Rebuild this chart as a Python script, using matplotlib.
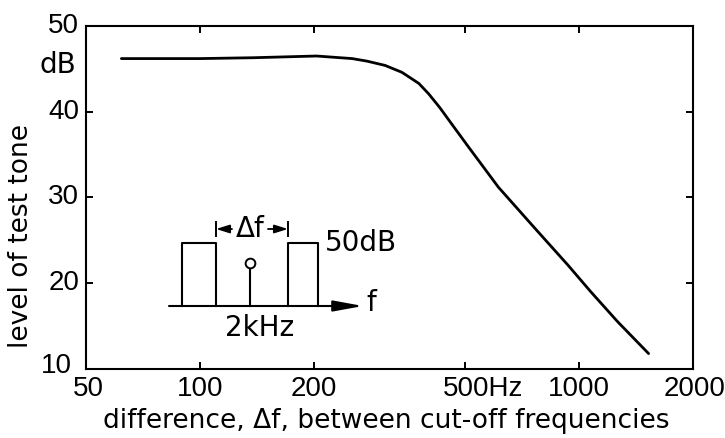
import matplotlib
matplotlib.use('Agg')
import matplotlib.pyplot as plt

# curve
freq_hz = [62, 100, 138, 203, 252, 276, 308, 341, 378, 401, 429, 461, 511, 613,
           762, 936, 1075, 1266, 1527]
level_db = [46.2, 46.2, 46.3, 46.5, 46.2, 45.9, 45.4, 44.6, 43.3, 42.1, 40.5, 38.6,
            35.9, 31.2, 26.5, 22.1, 19.0, 15.5, 11.8]

xtick_values = [50, 100, 200, 500, 1000, 2000]
xtick_labels = ['50', '100', '200', '500Hz', '1000', '2000']
ytick_values = [10, 20, 30, 40, 50]
ytick_labels = ['10', '20', '30', '40', '50']

plt.rcParams['font.family'] = ['DejaVu Sans']
NARROW = ['Liberation Sans Narrow', 'Liberation Sans', 'DejaVu Sans']
FS_TICK = 20
FS_LABEL = 19

fig = plt.figure(figsize=(7.25, 4.38), dpi=100)
ax = fig.add_axes([86 / 725, 1 - 369 / 438, 607 / 725, 343 / 438])

ax.plot(freq_hz, level_db, color='black', lw=2.0,
        solid_capstyle='round', solid_joinstyle='round')

ax.set_xscale('log')
ax.set_xlim(50, 2000)
ax.set_ylim(10, 50)

for s in ax.spines.values():
    s.set_linewidth(1.5)

ax.set_xticks(xtick_values)
ax.set_xticklabels([''] * len(xtick_values))
ax.xaxis.set_minor_locator(matplotlib.ticker.NullLocator())
ax.set_yticks(ytick_values)
ax.set_yticklabels([''] * len(ytick_values))
ax.tick_params(direction='in', length=5, width=1.4, top=True, right=True)

# x tick labels drawn by hand so "500Hz" can hang to the right
for v, lab in zip(xtick_values, xtick_labels):
    dx = 0
    if lab == '500Hz':
        dx = 13
    elif lab == '50':
        dx = 2
    elif lab == '2000':
        dx = 1
    ax.annotate(lab, xy=(v, 0), xycoords=('data', 'axes fraction'),
                xytext=(dx, -5), textcoords='offset points',
                ha='center', va='top', fontsize=FS_TICK, family=NARROW)

for v, lab in zip(ytick_values, ytick_labels):
    dy = 0
    dx = -5
    if lab == '10':
        dy = 2
        dx = -10
    ax.annotate(lab, xy=(0, v), xycoords=('axes fraction', 'data'),
                xytext=(dx, dy), textcoords='offset points',
                ha='right', va='center', fontsize=FS_TICK, family=NARROW)

ax.annotate('dB', xy=(0, 45.4), xycoords=('axes fraction', 'data'),
            xytext=(-7, 0), textcoords='offset points',
            ha='right', va='center', fontsize=FS_TICK)

fig.text(21 / 725, 1 - 236 / 438, 'level of test tone', rotation=90,
         ha='center', va='center', fontsize=FS_LABEL)
fig.text(386 / 725, 1 - 421 / 438, 'difference, \u0394f, between cut-off frequencies',
         ha='center', va='center', fontsize=FS_LABEL)

# small schematic of the masker bands and the test tone
ins = fig.add_axes([165 / 725, 1 - 345 / 438, 210 / 725, 130 / 438])
ins.set_xlim(0, 210)
ins.set_ylim(0, 130)
ins.axis('off')

base_y = 39
band_top = 102
left_band = (17, 51)
right_band = (123, 153)
tone_x = 85
tone_y = 82

ins.annotate('', xy=(198, base_y), xytext=(4, base_y),
             arrowprops=dict(arrowstyle='-|>,head_length=1.2,head_width=0.22',
                             lw=1.5, color='black', mutation_scale=15,
                             shrinkA=0, shrinkB=0))
for x0, x1 in (left_band, right_band):
    ins.plot([x0, x0, x1, x1], [base_y, band_top, band_top, base_y],
             color='black', lw=1.5)
ins.plot([tone_x, tone_x], [base_y, tone_y], color='black', lw=1.5)
ins.plot([tone_x], [tone_y], marker='o', ms=7, mfc='white', mec='black', mew=1.4)

dim_y = 116
ins.plot([left_band[1], left_band[1]], [dim_y - 7, dim_y + 7], color='black', lw=1.4)
ins.plot([right_band[0], right_band[0]], [dim_y - 7, dim_y + 7], color='black', lw=1.4)
ins.annotate('', xy=(left_band[1], dim_y), xytext=(67, dim_y),
             arrowprops=dict(arrowstyle='-|>,head_length=0.8,head_width=0.25',
                             lw=1.3, color='black', mutation_scale=10,
                             shrinkA=0, shrinkB=0))
ins.annotate('', xy=(right_band[0], dim_y), xytext=(103, dim_y),
             arrowprops=dict(arrowstyle='-|>,head_length=0.8,head_width=0.25',
                             lw=1.3, color='black', mutation_scale=10,
                             shrinkA=0, shrinkB=0))
ins.text(85, dim_y, '\u0394f', ha='center', va='center', fontsize=FS_TICK)
ins.text(160, band_top, '50dB', ha='left', va='center', fontsize=FS_TICK)
ins.text(201, base_y + 3, 'f', ha='left', va='center', fontsize=FS_TICK)
ins.text(95, 17, '2kHz', ha='center', va='center', fontsize=FS_TICK)

fig.savefig('out.png', dpi=100)
